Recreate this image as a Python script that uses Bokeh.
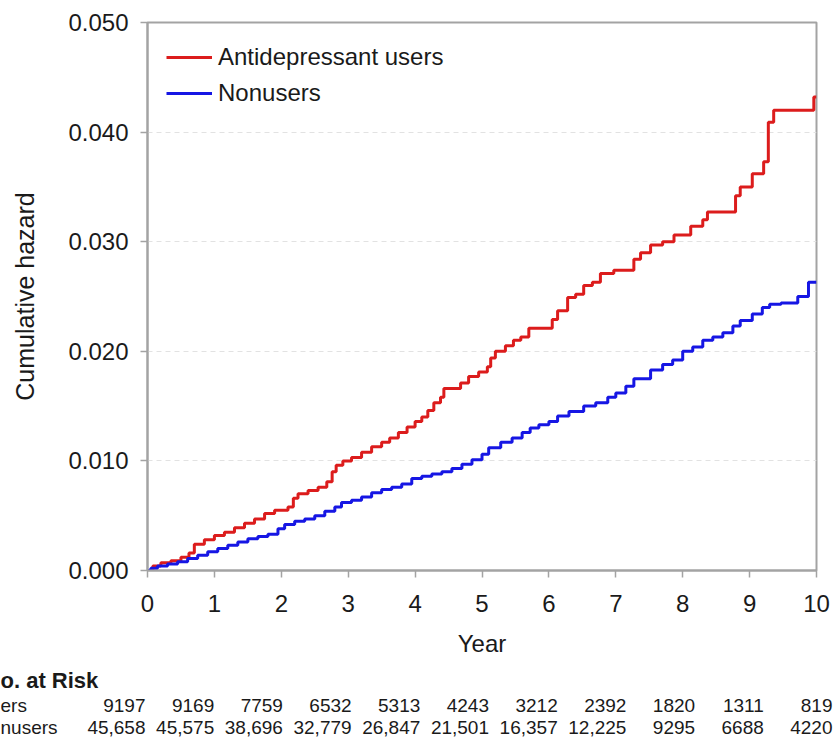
from bokeh.plotting import figure
from bokeh.layouts import column
from bokeh.models import (Range1d, FixedTicker, NumeralTickFormatter, Legend, LegendItem,
                          ColumnDataSource)
from bokeh.core.properties import value
from bokeh.embed import file_html
from bokeh.resources import INLINE

# ---- data ----
users_t = [0.00, 0.08, 0.20, 0.35, 0.50, 0.62, 0.70, 0.85, 1.00, 1.15, 1.30, 1.45, 1.60, 1.75,
           1.90, 2.10, 2.18, 2.25, 2.40, 2.55, 2.68, 2.76, 2.82, 2.92, 3.05, 3.20, 3.35, 3.50,
           3.62, 3.75, 3.88, 4.00, 4.10, 4.19, 4.28, 4.38, 4.43, 4.68, 4.80, 4.95, 5.08, 5.13,
           5.20, 5.35, 5.47, 5.58, 5.70, 6.05, 6.13, 6.28, 6.40, 6.52, 6.65, 6.77, 6.97, 7.27,
           7.37, 7.52, 7.70, 7.87, 8.12, 8.30, 8.37, 8.79, 8.86, 9.04, 9.21, 9.28, 9.36, 9.96, 10.0]
users_h = [0.0000, 0.0004, 0.0007, 0.0009, 0.0012, 0.0016, 0.0024, 0.0028, 0.0032, 0.0035,
           0.0039, 0.0043, 0.0047, 0.0052, 0.0055, 0.0058, 0.0066, 0.0070, 0.0073, 0.0076,
           0.0081, 0.0090, 0.0096, 0.0100, 0.0103, 0.0108, 0.0113, 0.0117, 0.0121, 0.0126,
           0.0131, 0.0136, 0.0140, 0.0146, 0.0153, 0.0158, 0.0166, 0.0171, 0.0177, 0.0181,
           0.0186, 0.0194, 0.0200, 0.0205, 0.0210, 0.0213, 0.0221, 0.0229, 0.0237, 0.0249,
           0.0252, 0.0260, 0.0263, 0.0271, 0.0274, 0.0284, 0.0290, 0.0297, 0.0300, 0.0306,
           0.0314, 0.0320, 0.0327, 0.0342, 0.0350, 0.0362, 0.0373, 0.0409, 0.0420, 0.0432, 0.0432]

non_t = [0.00, 0.05, 0.15, 0.30, 0.45, 0.60, 0.75, 0.90, 1.05, 1.20, 1.35, 1.50, 1.65, 1.80,
         1.95, 2.05, 2.20, 2.35, 2.50, 2.65, 2.80, 2.90, 3.05, 3.20, 3.35, 3.50, 3.65, 3.80,
         3.95, 4.10, 4.25, 4.40, 4.55, 4.70, 4.85, 5.00, 5.10, 5.28, 5.45, 5.60, 5.72, 5.85,
         6.00, 6.13, 6.30, 6.52, 6.70, 6.88, 7.00, 7.15, 7.27, 7.52, 7.70, 7.85, 8.00, 8.15,
         8.30, 8.45, 8.60, 8.75, 8.86, 9.04, 9.19, 9.30, 9.47, 9.72, 9.88, 10.0]
non_h = [0.0000, 0.0002, 0.0004, 0.0006, 0.0008, 0.0011, 0.0014, 0.0017, 0.0020, 0.0023,
         0.0026, 0.0029, 0.0031, 0.0033, 0.0038, 0.0042, 0.0045, 0.0047, 0.0050, 0.0054,
         0.0058, 0.0062, 0.0064, 0.0067, 0.0071, 0.0074, 0.0076, 0.0079, 0.0084, 0.0086,
         0.0088, 0.0090, 0.0093, 0.0097, 0.0101, 0.0106, 0.0112, 0.0117, 0.0121, 0.0126,
         0.0130, 0.0133, 0.0136, 0.0141, 0.0145, 0.0150, 0.0153, 0.0158, 0.0162, 0.0168,
         0.0175, 0.0183, 0.0188, 0.0192, 0.0200, 0.0204, 0.0210, 0.0213, 0.0217, 0.0223,
         0.0228, 0.0234, 0.0240, 0.0243, 0.0244, 0.0250, 0.0263, 0.0263]

years = [0, 1, 2, 3, 4, 5, 6, 7, 8, 9, 10]
y_ticks = [0.0, 0.01, 0.02, 0.03, 0.04, 0.05]
risk_users = ["9197", "9169", "7759", "6532", "5313", "4243", "3212", "2392", "1820", "1311", "819"]
risk_non = ["45,658", "45,575", "38,696", "32,779", "26,847", "21,501", "16,357", "12,225",
            "9295", "6688", "4220"]
risk_title = "o. at Risk"
row_labels = ["ers", "nusers"]

FONT = "Liberation Sans"
TXT = "#1a1a1a"
GRAY = "#a3a3a3"
RED = "#dc1c1c"
BLUE = "#1616e4"

W = 834
H_MAIN = 666
H_TABLE = 75

p = figure(width=W, height=H_MAIN, output_backend="svg", toolbar_location=None,
           x_range=Range1d(0, 10), y_range=Range1d(0, 0.05),
           min_border_left=147, min_border_right=18, min_border_top=22, min_border_bottom=96)
p.frame_align = False

r1 = p.step(users_t, users_h, mode="after", line_color=RED, line_width=3)
r2 = p.step(non_t, non_h, mode="after", line_color=BLUE, line_width=3)

p.xaxis.ticker = FixedTicker(ticks=years)
p.yaxis.ticker = FixedTicker(ticks=y_ticks)
p.yaxis.formatter = NumeralTickFormatter(format="0.000")
for ax in (p.xaxis[0], p.yaxis[0]):
    ax.axis_line_color = GRAY
    ax.axis_line_width = 2
    ax.major_tick_line_color = GRAY
    ax.major_tick_line_width = 1.5
    ax.major_tick_out = 7
    ax.major_tick_in = 0
    ax.minor_tick_line_color = None
    ax.major_label_text_font = FONT
    ax.major_label_text_font_size = "24px"
    ax.major_label_text_color = TXT
    ax.axis_label_text_font = FONT
    ax.axis_label_text_font_style = "normal"
    ax.axis_label_text_color = TXT
p.xaxis.axis_label = "Year"
p.xaxis.axis_label_text_font_size = "24px"
p.xaxis.major_label_standoff = 17
p.xaxis.axis_label_standoff = 15
p.yaxis.axis_label = "Cumulative hazard"
p.yaxis.axis_label_text_font_size = "25px"
p.yaxis.major_label_standoff = 12
p.yaxis.axis_label_standoff = 26

p.xgrid.visible = False
p.ygrid.grid_line_color = "#e2e2e2"
p.ygrid.grid_line_dash = "5 4"
p.outline_line_color = GRAY
p.outline_line_width = 2

legend = Legend(items=[LegendItem(label="Antidepressant users", renderers=[r1]),
                       LegendItem(label="Nonusers", renderers=[r2])],
                location="top_left", margin=19, padding=0, spacing=4,
                glyph_width=46, glyph_height=32, label_height=32, label_standoff=6,
                label_text_font=FONT, label_text_font_size="24px", label_text_color=TXT,
                background_fill_alpha=0, border_line_alpha=0)
p.add_layout(legend)

# ---- number-at-risk table (own figure, columns right-aligned on a 68.7 px pitch) ----
COL_PITCH = 68.7
COL0_RIGHT = 145  # px of first column's right edge
t = figure(width=W, height=H_TABLE, output_backend="svg", toolbar_location=None,
           x_range=Range1d(-COL0_RIGHT / COL_PITCH, (W - COL0_RIGHT) / COL_PITCH),
           y_range=Range1d(H_TABLE, 0),
           min_border_left=0, min_border_right=0, min_border_top=0, min_border_bottom=0,
           x_axis_location=None, y_axis_location=None)
t.frame_align = False
t.xgrid.visible = False
t.ygrid.visible = False
t.outline_line_color = None

ROW_T, ROW_1, ROW_2 = 14, 39, 61
src = ColumnDataSource(dict(x=years, u=risk_users, n=risk_non,
                            yu=[ROW_1] * len(years), yn=[ROW_2] * len(years)))
t.text(x="x", y="yu", text="u", source=src, text_align="right", text_baseline="middle",
       text_font=value(FONT), text_font_size="19px", text_color=TXT)
t.text(x="x", y="yn", text="n", source=src, text_align="right", text_baseline="middle",
       text_font=value(FONT), text_font_size="19px", text_color=TXT)
x_left = t.x_range.start
t.text(x=[x_left], y=[ROW_T], text=[risk_title], text_align="left", text_baseline="middle",
       text_font=value(FONT), text_font_size="22px", text_font_style="bold", text_color=TXT)
t.text(x=[x_left, x_left], y=[ROW_1, ROW_2], text=row_labels, text_align="left",
       text_baseline="middle", text_font=value(FONT), text_font_size="19px", text_color=TXT)

layout = column(p, t, spacing=0)
open("out.html", "w").write(file_html(layout, INLINE))
